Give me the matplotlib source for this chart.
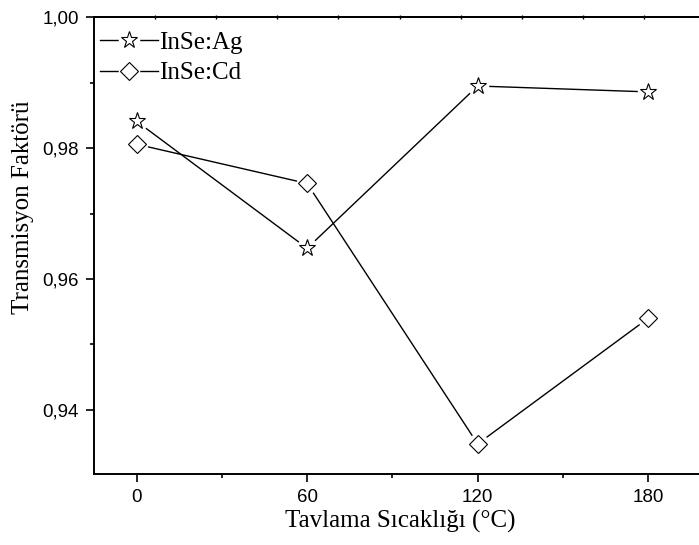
import matplotlib
matplotlib.use("Agg")
import matplotlib.pyplot as plt
from matplotlib.lines import Line2D
from matplotlib.legend_handler import HandlerTuple
from matplotlib.ticker import FixedLocator, FuncFormatter

# Annealing temperature (°C) and transmission factor of the two samples
temperatures = [0, 60, 120, 180]
inse_ag = [0.9841, 0.9647, 0.9895, 0.9886]
inse_cd = [0.9806, 0.9746, 0.9348, 0.9540]

series_labels = ["InSe:Ag", "InSe:Cd"]
x_ticks = [0, 60, 120, 180]
y_ticks = [0.94, 0.96, 0.98, 1.00]

serif = "Liberation Serif"
sans = "Liberation Sans"

fig = plt.figure(figsize=(6.99, 5.45), dpi=100)
ax = fig.add_axes([94 / 699, 1 - 474 / 545, 611 / 699, (474 - 17.3) / 545])

ax.set_xlim(-15, 200)
ax.set_ylim(0.9302, 1.0)

lw = 1.0
styles = [dict(marker="*", ms=12.5), dict(marker="D", ms=9.6)]
handles = []
for ys, st in zip([inse_ag, inse_cd], styles):
    ax.plot(temperatures, ys, color="black", lw=lw, zorder=2, clip_on=False)
    # white halo leaves a small gap between the line and each symbol
    ax.plot(temperatures, ys, ls="none", marker="o", ms=15.5, mfc="white",
            mec="none", zorder=3, clip_on=False)
    ax.plot(temperatures, ys, ls="none", marker=st["marker"], ms=st["ms"],
            mfc="white", mec="black", mew=0.8, zorder=4, clip_on=False)
    h_line = Line2D([], [], color="black", lw=lw)
    h_halo = Line2D([], [], ls="none", marker="o", ms=15.5, mfc="white", mec="none")
    h_mark = Line2D([], [], ls="none", marker=st["marker"], ms=st["ms"],
                    mfc="white", mec="black", mew=0.8)
    handles.append((h_line, h_halo, h_mark))

leg = ax.legend(handles, series_labels, handler_map={tuple: HandlerTuple(ndivide=1, pad=0)},
                loc="upper left", bbox_to_anchor=(6 / 611, 1 - 14 / 457),
                frameon=False, prop={"family": serif, "size": 18},
                handlelength=2.3, handletextpad=0.05, labelspacing=0.32,
                borderpad=0, borderaxespad=0)

# axes frame and ticks
for s in ["left", "bottom", "top"]:
    ax.spines[s].set_linewidth(1.4)
ax.spines["right"].set_visible(False)

ax.xaxis.set_major_locator(FixedLocator(x_ticks))
ax.xaxis.set_minor_locator(FixedLocator([30, 90, 150]))
ax.yaxis.set_major_locator(FixedLocator(y_ticks))
ax.yaxis.set_minor_locator(FixedLocator([0.95, 0.97, 0.99]))
ax.yaxis.set_major_formatter(FuncFormatter(lambda v, p: f"{v:.2f}".replace(".", ",")))
ax.xaxis.set_major_formatter(FuncFormatter(lambda v, p: f"{v:.0f}"))

ax.tick_params(which="major", direction="out", length=6, width=1.2,
               labelsize=13.5, pad=5)
ax.tick_params(which="minor", direction="out", length=3.2, width=1.2)
ax.tick_params(top=False, right=False, which="both")
for lab in ax.get_xticklabels() + ax.get_yticklabels():
    lab.set_fontfamily(sans)

# top axis carries its own evenly spaced ticks
top = ax.twiny()
top.set_xlim(0, 10)
top.xaxis.set_major_locator(FixedLocator(range(1, 10)))
top.tick_params(axis="x", direction="inout", length=3, width=1.0, labeltop=False)
for s in ["left", "right", "bottom"]:
    top.spines[s].set_visible(False)
top.spines["top"].set_linewidth(1.4)
top.yaxis.set_visible(False)

ax.set_xlabel("Tavlama Sıcaklığı (°C)", fontfamily=serif, fontsize=18)
ax.set_ylabel("Transmisyon Faktörü", fontfamily=serif, fontsize=18)
ax.xaxis.set_label_coords((400 - 94) / 611, -(521 - 474) / 457)
ax.yaxis.set_label_coords(-(94 - 34) / 611, (474 - 207) / 457)
ax.xaxis.label.set_va("center")
ax.yaxis.label.set_va("bottom")

fig.savefig("out.png", dpi=100)
